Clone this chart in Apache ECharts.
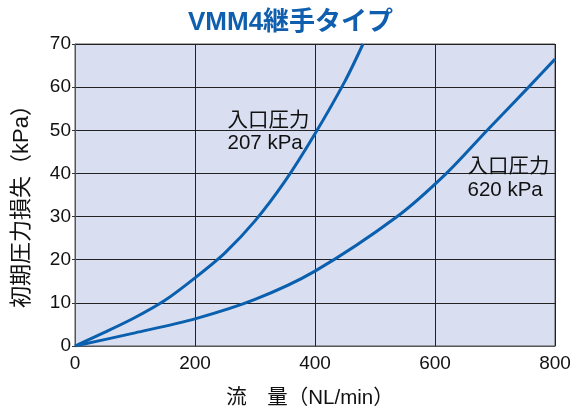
<!DOCTYPE html>
<html>
<head>
<meta charset="utf-8">
<script src="https://cdn.jsdelivr.net/npm/echarts@6/dist/echarts.min.js"></script>
<style>
html,body{margin:0;padding:0;background:#fff;}
#chart{width:570px;height:407px;}
</style>
</head>
<body>
<div id="chart"></div>
<script>
var titleText = 'VMM4継手タイプ';
var xAxisName = '流　量（NL/min）';
var yAxisName = '初期圧力損失（kPa）';
var xTicks = [0, 200, 400, 600, 800];
var yTicks = [0, 10, 20, 30, 40, 50, 60, 70];

// series: inlet pressure 207 kPa
var flow207 = [0, 50, 100, 150, 200, 250, 300, 350, 400, 450, 480];
var loss207 = [0, 3.2, 6.6, 10.6, 15.8, 21.6, 29.0, 38.2, 49.2, 61.4, 70];
var label207 = '入口圧力\n207 kPa';
var labelPos207 = [255, 54.6];

// series: inlet pressure 620 kPa
var flow620 = [0, 100, 200, 300, 400, 537, 619, 687, 756, 800];
var loss620 = [0, 3.05, 6.3, 10.8, 17.35, 30, 40, 50, 60, 66.5];
var label620 = '入口圧力\n620 kPa';
var labelPos620 = [655, 44.0];

var FONT = "'Liberation Sans', 'Noto Sans CJK JP', sans-serif";
var lineColor = '#0a5fae';

function pairs(xs, ys) { return xs.map(function (x, i) { return [x, ys[i]]; }); }

function annot(text, pos, lh) {
  return {
    type: 'scatter',
    data: [pos],
    symbol: 'circle',
    symbolSize: 1,
    silent: true,
    z: 5,
    itemStyle: { color: 'rgba(0,0,0,0)' },
    labelLayout: { hideOverlap: false },
    label: {
      show: true,
      position: [0, 0],
      align: 'left',
      verticalAlign: 'top',
      formatter: text,
      color: '#111',
      opacity: 1,
      fontSize: 20.5,
      lineHeight: lh,
      fontFamily: FONT
    }
  };
}

var chart = echarts.init(document.getElementById('chart'), null, { renderer: 'canvas' });
chart.setOption({
  animation: false,
  backgroundColor: '#ffffff',
  title: {
    text: titleText,
    left: 188,
    top: 10,
    padding: 0,
    textStyle: { color: '#0f5fae', fontSize: 26, fontWeight: 'bold', fontFamily: FONT }
  },
  grid: {
    left: 75, right: 15, top: 44, bottom: 61,
    outerBoundsMode: 'none',
    containLabel: false,
    show: true, backgroundColor: '#d9dff0', borderColor: '#555', borderWidth: 1
  },
  xAxis: {
    type: 'value', min: xTicks[0], max: xTicks[xTicks.length - 1], interval: 200,
    name: xAxisName, nameLocation: 'middle', nameGap: 42,
    nameTextStyle: { color: '#111', fontSize: 20.5, fontFamily: FONT, padding: [0, 10, 0, 0] },
    axisLine: { show: true, lineStyle: { color: '#555', width: 1 } },
    axisTick: { show: false },
    axisLabel: { color: '#111', fontSize: 19, margin: 8, fontFamily: FONT },
    splitLine: { show: true, lineStyle: { color: '#222', width: 1 } }
  },
  yAxis: {
    type: 'value', min: yTicks[0], max: yTicks[yTicks.length - 1], interval: 10,
    name: yAxisName, nameLocation: 'middle', nameGap: 42, nameRotate: 90,
    nameTextStyle: { color: '#111', fontSize: 22, fontFamily: FONT, padding: [0, 12, 0, 0] },
    axisLine: { show: true, lineStyle: { color: '#555', width: 1 } },
    axisTick: { show: true, length: 3, lineStyle: { color: '#333' } },
    axisLabel: { color: '#111', fontSize: 19, margin: 4, fontFamily: FONT },
    splitLine: { show: true, lineStyle: { color: '#222', width: 1 } }
  },
  series: [
    {
      type: 'line', data: pairs(flow207, loss207), smooth: 0.3, showSymbol: false,
      lineStyle: { color: lineColor, width: 3 }, clip: true
    },
    {
      type: 'line', data: pairs(flow620, loss620), smooth: 0.3, showSymbol: false,
      lineStyle: { color: lineColor, width: 3 }, clip: true
    },
    annot(label207, labelPos207, 22),
    annot(label620, labelPos620, 23)
  ]
});
</script>
</body>
</html>
